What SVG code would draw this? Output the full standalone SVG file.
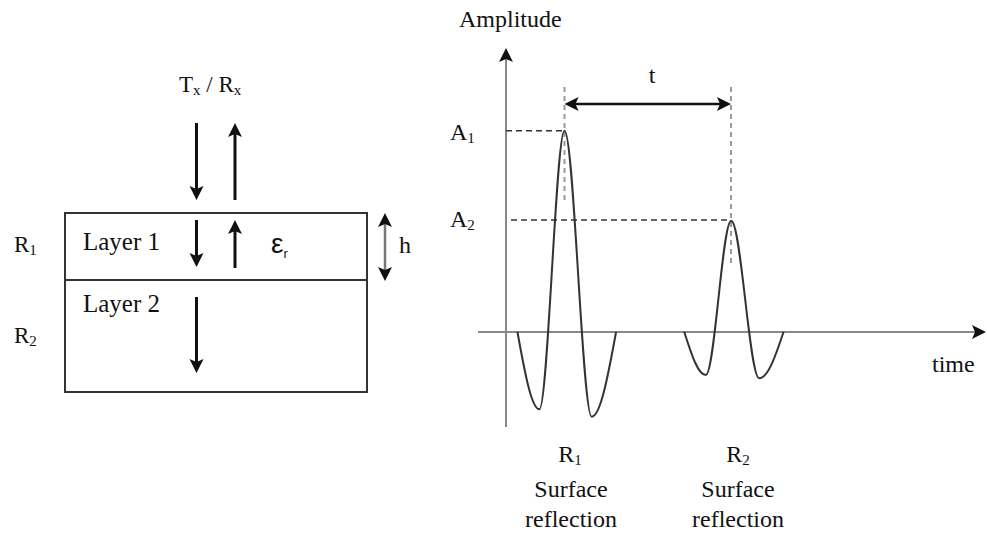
<svg xmlns="http://www.w3.org/2000/svg" width="987" height="533" viewBox="0 0 987 533">
<style>
.t{font-family:"Liberation Serif","Times New Roman",serif;fill:#111;}
.s{font-family:"Liberation Sans",Arial,sans-serif;fill:#111;}
.box{fill:none;stroke:#333;stroke-width:2;}
.arr{stroke:#111;stroke-width:3;fill:none;}
.axis{stroke:#888;stroke-width:2;fill:none;}
.dh{stroke:#333;stroke-width:1.6;stroke-dasharray:6 4;fill:none;}
.dv{stroke:#9a9a9a;stroke-width:2;stroke-dasharray:5 4;fill:none;}
.wave{stroke:#333;stroke-width:2;fill:none;}
</style>
<defs>
<marker id="head" viewBox="-8 -8 16 16" refX="0" refY="0" markerWidth="16" markerHeight="16" markerUnits="userSpaceOnUse" orient="auto-start-reverse" overflow="visible">
<path d="M7,0 L-7,-7 L-4,0 L-7,7 Z" fill="#111"/>
</marker>
</defs>
<rect width="987" height="533" fill="#fff"/>

<g id="layers">
<rect class="box" x="65" y="213" width="302" height="179"/>
<line class="box" x1="65" y1="280" x2="367" y2="280"/>
</g>
<g id="labels-left">
<text class="t" x="179" y="92" font-size="23">T<tspan font-size="15" dy="3">x</tspan><tspan dy="-3"> / R</tspan><tspan font-size="15" dy="3">x</tspan></text>
<text class="t" x="14" y="252" font-size="23">R<tspan font-size="15" dy="3">1</tspan></text>
<text class="t" x="14" y="343" font-size="23">R<tspan font-size="15" dy="3">2</tspan></text>
<text class="t" x="83" y="250" font-size="25" fill="#1b1b2f">Layer 1</text>
<text class="t" x="83" y="312" font-size="25" fill="#1b1b2f">Layer 2</text>
<text class="s" x="271" y="253" font-size="28">ε<tspan font-size="13" dy="5">r</tspan></text>
<text class="t" x="399" y="253" font-size="24">h</text>
</g>
<g id="connectors">
<line class="arr" x1="196.5" y1="123" x2="196.5" y2="193" marker-end="url(#head)"/>
<line class="arr" x1="235" y1="200" x2="235" y2="130" marker-end="url(#head)"/>
<line class="arr" x1="196.5" y1="220" x2="196.5" y2="260" marker-end="url(#head)"/>
<line class="arr" x1="235" y1="268" x2="235" y2="227" marker-end="url(#head)"/>
<line class="arr" x1="196.5" y1="297" x2="196.5" y2="366" marker-end="url(#head)"/>
<line x1="385" y1="220" x2="385" y2="274" stroke="#777" stroke-width="2.5" marker-start="url(#head)" marker-end="url(#head)"/>
<line class="axis" x1="506" y1="427" x2="506" y2="55" marker-end="url(#head)"/>
<line class="axis" x1="478" y1="332" x2="979" y2="332" marker-end="url(#head)"/>
<line x1="571.5" y1="104" x2="724" y2="104" stroke="#111" stroke-width="2.5" marker-start="url(#head)" marker-end="url(#head)"/>
<line class="dh" x1="506" y1="130.7" x2="564" y2="130.7"/>
<line class="dh" x1="511" y1="220" x2="731" y2="220"/>
<line class="dv" x1="564.5" y1="87" x2="564.5" y2="203"/>
<line class="dv" x1="731" y1="87" x2="731" y2="263"/>
</g>
<g id="waveform">
<path class="wave" d="M517.4,331.7 C525.1,374.4 531.7,409.3 539.4,409.3 C548,409.3 555.9,130.7 564.5,130.7 C574,130.7 582.2,416.7 591.7,416.7 C600.2,416.7 607.6,378.5 616.1,331.7"/>
<path class="wave" d="M684.2,331.7 C691.8,355.5 698.2,375 705.8,375 C714.7,375 722.3,220.7 731.2,220.7 C741,220.7 749.4,378.3 759.2,378.3 C767.7,378.3 775.1,357.3 783.6,331.7"/>
</g>
<g id="labels-right">
<text class="t" x="459" y="27" font-size="24">Amplitude</text>
<text class="t" x="652" y="83" font-size="24" text-anchor="middle">t</text>
<text class="t" x="450" y="140" font-size="24">A<tspan font-size="15" dy="3">1</tspan></text>
<text class="t" x="450" y="227" font-size="24">A<tspan font-size="15" dy="3">2</tspan></text>
<text class="t" x="932" y="372" font-size="24">time</text>
<text class="t" x="570" y="462" font-size="24" text-anchor="middle">R<tspan font-size="15" dy="3">1</tspan></text>
<text class="t" x="571" y="497" font-size="24" text-anchor="middle">Surface</text>
<text class="t" x="571" y="527" font-size="24" text-anchor="middle">reflection</text>
<text class="t" x="738" y="462" font-size="24" text-anchor="middle">R<tspan font-size="15" dy="3">2</tspan></text>
<text class="t" x="738" y="497" font-size="24" text-anchor="middle">Surface</text>
<text class="t" x="738" y="527" font-size="24" text-anchor="middle">reflection</text>
</g>
</svg>
